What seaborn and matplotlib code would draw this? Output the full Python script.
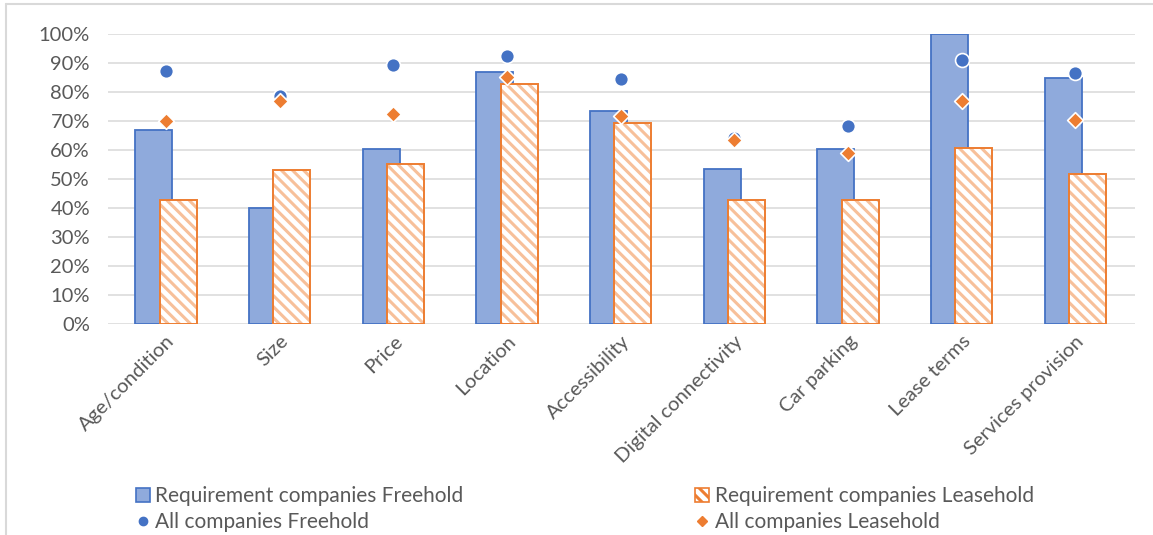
import matplotlib
matplotlib.use("Agg")
import matplotlib.pyplot as plt
import seaborn as sns
import pandas as pd
from matplotlib.patches import Rectangle, Patch
from matplotlib.lines import Line2D
from matplotlib.ticker import PercentFormatter, MultipleLocator

# Property criteria and shares of respondents rating them important
categories = ["Age/condition", "Size", "Price", "Location", "Accessibility",
              "Digital connectivity", "Car parking", "Lease terms", "Services provision"]
req_freehold = [0.667, 0.400, 0.602, 0.867, 0.733, 0.533, 0.602, 1.000, 0.846]
req_leasehold = [0.429, 0.531, 0.551, 0.828, 0.692, 0.429, 0.429, 0.608, 0.517]
all_freehold = [0.870, 0.786, 0.891, 0.922, 0.844, 0.640, 0.684, 0.908, 0.864]
all_leasehold = [0.698, 0.769, 0.723, 0.852, 0.715, 0.634, 0.589, 0.769, 0.703]

series_names = ["Requirement companies Freehold", "Requirement companies Leasehold",
                "All companies Freehold", "All companies Leasehold"]

BLUE = "#4472C4"
BLUE_FILL = "#8FAADC"
ORANGE = "#ED7D31"
ORANGE_LIGHT = "#F7C09A"
GRID = "#D9D9D9"
TEXT = "#595959"

sns.set_theme(style="white")
plt.rcParams["font.family"] = ["Lato", "DejaVu Sans"]
plt.rcParams["hatch.linewidth"] = 2.2

bars = pd.DataFrame({
    "category": categories * 2,
    "value": req_freehold + req_leasehold,
    "series": [series_names[0]] * len(categories) + [series_names[1]] * len(categories),
})
points_fh = pd.DataFrame({"category": categories, "value": all_freehold})
points_lh = pd.DataFrame({"category": categories, "value": all_leasehold})

fig = plt.figure(figsize=(11.53, 5.35), dpi=100)
ax = fig.add_axes([0.0937, 0.394, 0.8903, 0.543])

ax.yaxis.set_major_locator(MultipleLocator(0.1))
ax.grid(axis="y", color=GRID, linewidth=1.1, zorder=0)
ax.set_axisbelow(True)

sns.barplot(data=bars, x="category", y="value", hue="series", order=categories,
            hue_order=series_names[:2], palette=[BLUE_FILL, "white"], saturation=1,
            width=0.428, gap=-0.52, legend=False, ax=ax, zorder=2)

# Freehold bars: solid fill with blue outline
for bar in ax.containers[0]:
    bar.set_facecolor(BLUE_FILL)
    bar.set_edgecolor(BLUE)
    bar.set_linewidth(1.3)

# Leasehold bars: light diagonal stripes with an orange outline
for bar in ax.containers[1]:
    bar.set_facecolor("white")
    bar.set_edgecolor(ORANGE_LIGHT)
    bar.set_hatch("\\\\\\")
    bar.set_linewidth(0)
    ax.add_patch(Rectangle(bar.get_xy(), bar.get_width(), bar.get_height(),
                           fill=False, edgecolor=ORANGE, linewidth=1.4, zorder=3))

sns.stripplot(data=points_fh, x="category", y="value", order=categories, jitter=False,
              color=BLUE, marker="o", size=10, linewidth=1.2, edgecolor="white",
              ax=ax, zorder=4)
sns.stripplot(data=points_lh, x="category", y="value", order=categories, jitter=False,
              color=ORANGE, marker="D", size=8, linewidth=1.2, edgecolor="white",
              ax=ax, zorder=5)

ax.set_ylim(0, 1)
ax.set_xlim(-0.51, 8.52)
ax.yaxis.set_major_formatter(PercentFormatter(1.0, decimals=0))
ax.set_xlabel("")
ax.set_ylabel("")
for side in ["top", "right", "left", "bottom"]:
    ax.spines[side].set_visible(False)
ax.tick_params(axis="both", length=0, colors=TEXT, labelsize=14.5)
ax.tick_params(axis="y", pad=13)
ax.tick_params(axis="x", pad=6)
for lbl in ax.get_xticklabels():
    lbl.set_rotation(45)
    lbl.set_ha("right")
    lbl.set_rotation_mode("anchor")

# Outer chart frame
fig.add_artist(Line2D([6 / 1153, 6 / 1153], [0, 1 - 4 / 535], color=GRID, linewidth=1.5))
fig.add_artist(Line2D([6 / 1153, 1], [1 - 4 / 535, 1 - 4 / 535], color=GRID, linewidth=1.5))

handles = [
    Patch(facecolor=BLUE_FILL, edgecolor=BLUE, linewidth=1.2),
    Line2D([], [], linestyle="none", marker="o", markersize=6, color=BLUE),
    Patch(facecolor="white", edgecolor=ORANGE, hatch="\\\\\\", linewidth=1.2),
    Line2D([], [], linestyle="none", marker="D", markersize=5, color=ORANGE),
]
labels = [series_names[0], series_names[2], series_names[1], series_names[3]]
leg = fig.legend(handles, labels, ncol=2, loc="lower left",
                 bbox_to_anchor=(0.114, -0.003), frameon=False, fontsize=15,
                 handlelength=0.7, handleheight=0.7, handletextpad=0.25,
                 columnspacing=11.1, labelspacing=0.3, borderaxespad=0.0,
                 borderpad=0.2)
for t in leg.get_texts():
    t.set_color(TEXT)

fig.savefig("out.png", dpi=100)
